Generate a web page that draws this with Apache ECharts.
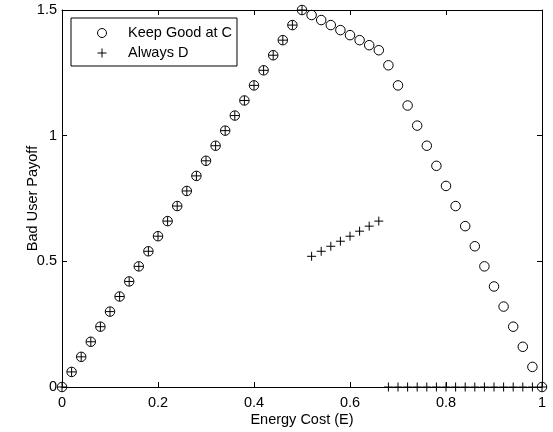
<!DOCTYPE html>
<html>
<head>
<meta charset="utf-8">
<script src="https://cdn.jsdelivr.net/npm/echarts@6/dist/echarts.min.js"></script>
<style>html,body{margin:0;padding:0;background:#fff}#c{width:553px;height:432px}</style>
</head>
<body>
<div id="c"></div>
<script>
var energyCost = [0,0.02,0.04,0.06,0.08,0.10,0.12,0.14,0.16,0.18,0.20,0.22,0.24,0.26,0.28,0.30,0.32,0.34,0.36,0.38,0.40,0.42,0.44,0.46,0.48,0.50,0.52,0.54,0.56,0.58,0.60,0.62,0.64,0.66,0.68,0.70,0.72,0.74,0.76,0.78,0.80,0.82,0.84,0.86,0.88,0.90,0.92,0.94,0.96,0.98,1.00];
var keepGoodAtC = [0,0.06,0.12,0.18,0.24,0.30,0.36,0.42,0.48,0.54,0.60,0.66,0.72,0.78,0.84,0.90,0.96,1.02,1.08,1.14,1.20,1.26,1.32,1.38,1.44,1.50,1.48,1.46,1.44,1.42,1.40,1.38,1.36,1.34,1.28,1.20,1.12,1.04,0.96,0.88,0.80,0.72,0.64,0.56,0.48,0.40,0.32,0.24,0.16,0.08,0];
var alwaysD = [0,0.06,0.12,0.18,0.24,0.30,0.36,0.42,0.48,0.54,0.60,0.66,0.72,0.78,0.84,0.90,0.96,1.02,1.08,1.14,1.20,1.26,1.32,1.38,1.44,1.50,0.52,0.54,0.56,0.58,0.60,0.62,0.64,0.66,0,0,0,0,0,0,0,0,0,0,0,0,0,0,0,0,0];
var seriesNames = ['Keep Good at C', 'Always D'];
var xTitle = 'Energy Cost (E)';
var yTitle = 'Bad User Payoff';

function pairs(xs, ys){ return xs.map(function(x,i){ return [x, ys[i]]; }); }

var FONT = "'Liberation Sans', Helvetica, Arial, sans-serif";
var FS = 14.5;
var lineStyle = {color:'#000', width:1};
var tickStyle = {show:true, inside:true, length:5, lineStyle:{color:'#000', width:1}};

var chart = echarts.init(document.getElementById('c'), null, {renderer:'canvas'});
chart.setOption({
  animation:false,
  backgroundColor:'#fff',
  textStyle:{fontFamily:FONT, color:'#000'},
  grid:{left:62, right:11, top:10, bottom:45, containLabel:false, outerBoundsMode:'none'},
  legend:{
    orient:'vertical', left:71, top:18,
    padding:[5,5,3,26], itemGap:0, itemWidth:14, itemHeight:9,
    borderColor:'#000', borderWidth:1, backgroundColor:'#fff',
    itemStyle:{color:'rgba(0,0,0,0)', borderColor:'#000', borderWidth:1},
    textStyle:{fontFamily:FONT, fontSize:FS, color:'#000', lineHeight:20, height:20, padding:[0,0,0,14]},
    data:seriesNames
  },
  xAxis:[
    {type:'value', min:0, max:1, interval:0.2, position:'bottom',
     axisLine:{show:true, onZero:false, lineStyle:lineStyle}, axisTick:tickStyle,
     splitLine:{show:false},
     axisLabel:{fontFamily:FONT, fontSize:FS, color:'#000', margin:8},
     name:xTitle, nameLocation:'middle', nameGap:25, nameMoveOverlap:false,
     nameTextStyle:{fontFamily:FONT, fontSize:FS, color:'#000'}},
    {type:'value', min:0, max:1, interval:0.2, position:'top',
     axisLine:{show:true, onZero:false, lineStyle:lineStyle}, axisTick:tickStyle,
     splitLine:{show:false}, axisLabel:{show:false}}
  ],
  yAxis:[
    {type:'value', min:0, max:1.5, interval:0.5, position:'left',
     axisLine:{show:true, onZero:false, lineStyle:lineStyle}, axisTick:tickStyle,
     splitLine:{show:false},
     axisLabel:{fontFamily:FONT, fontSize:FS, color:'#000', margin:5},
     name:yTitle, nameLocation:'middle', nameGap:22, nameMoveOverlap:false,
     nameTextStyle:{fontFamily:FONT, fontSize:FS, color:'#000'}},
    {type:'value', min:0, max:1.5, interval:0.5, position:'right',
     axisLine:{show:true, onZero:false, lineStyle:lineStyle}, axisTick:tickStyle,
     splitLine:{show:false}, axisLabel:{show:false}}
  ],
  series:[
    {name:seriesNames[0], type:'scatter', xAxisIndex:0, yAxisIndex:0, clip:false,
     symbol:'circle', symbolSize:9.5,
     itemStyle:{color:'rgba(0,0,0,0)', borderColor:'#000', borderWidth:1, opacity:1},
     emphasis:{disabled:true},
     data:pairs(energyCost, keepGoodAtC)},
    {name:seriesNames[1], type:'scatter', xAxisIndex:0, yAxisIndex:0, clip:false,
     symbol:'path://M0,5L10,5M5,0L5,10', symbolSize:9,
     itemStyle:{color:'rgba(0,0,0,0)', borderColor:'#000', borderWidth:1, opacity:1},
     emphasis:{disabled:true},
     data:pairs(energyCost, alwaysD)}
  ]
});
</script>
</body>
</html>
